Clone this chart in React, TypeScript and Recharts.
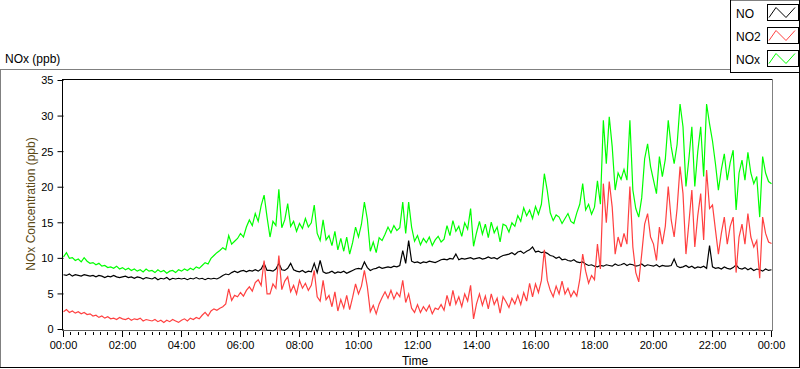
import { LineChart, Line, XAxis, YAxis, Label } from "recharts"

// sampled every 6 minutes (0.1 h), 00:00 .. 24:00
const sampleStepHours = 0.1

const noValues = [
  7.7, 7.6, 7.8, 7.5, 7.7, 7.6, 7.5, 7.7, 7.6, 7.5,
  7.6, 7.4, 7.6, 7.5, 7.3, 7.5, 7.4, 7.6, 7.4, 7.3,
  7.4, 7.5, 7.3, 7.4, 7.2, 7.4, 7.3, 7.1, 7.3, 7.2,
  7.1, 7.3, 7.0, 7.2, 7.1, 7.3, 7.0, 7.2, 7.1, 7.2,
  7.1, 7.2, 7.0, 7.2, 7.1, 7.3, 7.1, 7.2, 7.0, 7.2,
  7.1, 7.2, 7.1, 7.3, 7.6, 7.8, 7.7, 8.0, 8.2, 8.0,
  8.2, 8.3, 8.1, 8.3, 8.2, 8.4, 8.2, 8.5, 9.3, 8.3,
  8.3, 8.2, 8.5, 9.3, 8.4, 8.3, 8.6, 9.3, 8.4, 8.2,
  8.1, 8.3, 8.0, 8.2, 8.1, 9.3, 8.0, 9.7, 8.1, 7.9,
  8.0, 8.2, 7.9, 8.1, 8.0, 8.2, 7.9, 8.1, 8.3, 8.5,
  8.6, 8.5, 9.5, 8.7, 8.3, 8.5, 8.6, 8.8, 8.6, 8.7,
  8.8, 8.7, 8.9, 8.8, 9.0, 11.1, 9.3, 12.5, 9.6, 9.4,
  9.5, 9.3, 9.5, 9.4, 9.6, 9.5, 9.4, 9.6, 9.8, 9.9,
  9.8, 10.0, 9.9, 10.6, 9.8, 10.0, 9.9, 10.0, 10.1, 9.9,
  10.0, 10.1, 9.9, 10.0, 10.2, 10.0, 10.1, 9.9, 10.2, 10.4,
  10.5, 10.6, 10.8, 10.5, 10.9, 11.0, 10.7, 11.0, 11.2, 11.6,
  10.9, 11.0, 10.8, 10.9, 10.7, 10.4, 10.3, 10.0, 10.2, 9.8,
  9.9, 9.7, 9.6, 9.8, 9.5, 9.4, 9.5, 9.2, 9.0, 9.1,
  8.9, 8.8, 9.0, 8.9, 9.1, 9.0, 8.9, 9.2, 9.0, 9.1,
  9.3, 9.0, 9.2, 9.1, 8.9, 9.0, 9.2, 8.9, 9.1, 9.0,
  8.9, 9.1, 8.8, 9.0, 8.9, 8.9, 9.0, 9.9, 8.9, 8.7,
  8.8, 9.0, 8.7, 8.9, 8.6, 8.8, 8.7, 8.9, 8.6, 11.8,
  8.8, 8.6, 8.7, 8.5, 8.8, 8.6, 8.5, 8.7, 9.1, 8.6,
  8.5, 8.7, 8.4, 8.6, 8.3, 8.5, 8.4, 8.2, 8.5, 8.3,
  8.4,
]

const no2Values = [
  2.5, 2.8, 2.4, 2.6, 2.3, 2.5, 2.2, 2.4, 2.1, 2.2,
  1.9, 2.0, 1.7, 1.9, 1.6, 1.8, 1.5, 1.6, 1.4, 1.7,
  1.5, 1.4, 1.6, 1.3, 1.5, 1.4, 1.6, 1.2, 1.4, 1.3,
  1.2, 1.4, 1.1, 1.3, 1.0, 1.3, 1.1, 1.4, 1.2, 1.0,
  1.3, 1.5, 1.2, 1.6, 1.4, 1.7, 1.5, 2.0, 2.4, 1.9,
  2.6, 2.9, 2.7, 3.0, 3.2, 3.6, 5.7, 4.1, 4.8, 4.6,
  5.2, 4.7, 5.5, 6.0, 5.4, 6.6, 7.0, 6.2, 9.7, 5.0,
  5.0, 6.4, 5.8, 10.4, 5.6, 6.8, 7.4, 5.3, 6.2, 5.0,
  6.9, 5.8, 6.5, 5.5, 6.2, 8.3, 4.6, 4.0, 6.9, 4.2,
  4.8, 3.2, 5.3, 2.6, 4.2, 3.0, 4.8, 2.8, 4.5, 6.4,
  5.0, 6.1, 8.3, 6.0, 2.5, 3.4, 2.2, 3.6, 4.5, 5.3,
  4.4, 5.5, 4.3, 5.2, 4.6, 6.9, 3.8, 5.0, 3.0, 2.4,
  3.5, 2.4, 3.2, 2.6, 3.4, 2.2, 3.0, 2.8, 3.5, 2.7,
  4.8, 3.3, 5.5, 3.6, 4.6, 3.2, 5.0, 4.0, 6.2, 1.5,
  3.6, 5.0, 3.4, 4.7, 2.9, 5.0, 3.5, 4.4, 2.3, 4.6,
  3.9, 3.1, 4.4, 3.6, 4.8, 3.5, 5.2, 4.0, 6.5, 4.6,
  6.4, 5.2, 6.9, 11.2, 6.9, 5.5, 4.6, 6.1, 5.0, 6.8,
  5.0, 5.8, 4.6, 5.4, 4.7, 7.0, 10.6, 8.2, 6.5, 7.6,
  7.0, 12.0, 8.5, 20.5, 15.0, 20.8, 17.2, 10.6, 13.0, 11.6,
  13.5, 12.0, 20.1, 11.6, 8.0, 6.7, 10.6, 14.8, 16.3, 13.0,
  12.0, 9.7, 14.4, 12.0, 14.5, 20.1, 15.4, 13.0, 17.0, 22.9,
  19.1, 10.6, 15.0, 19.6, 11.6, 16.0, 19.1, 12.6, 22.4, 17.0,
  17.5, 14.0, 10.6, 13.5, 15.8, 12.0, 14.5, 15.8, 8.0, 13.0,
  14.8, 12.0, 16.3, 13.0, 11.6, 12.5, 7.2, 15.8, 13.5, 12.3,
  12.1,
]

const noxValues = [
  10.2, 10.8, 10.0, 10.1, 9.7, 9.9, 9.5, 10.1, 9.6, 9.3,
  9.4, 9.1, 9.3, 8.9, 9.0, 8.7, 8.8, 8.6, 8.9, 8.5,
  8.7, 8.4, 8.6, 8.3, 8.5, 8.2, 8.4, 8.1, 8.5, 8.2,
  8.3, 8.0, 8.4, 8.1, 8.3, 7.9, 8.2, 8.3, 8.0, 8.4,
  8.2, 8.5, 8.3, 8.6, 8.4, 8.8, 8.6, 9.0, 9.4, 9.2,
  10.0, 10.4, 10.8, 11.1, 11.5, 11.2, 13.2, 12.0, 12.4, 12.8,
  13.5, 13.0, 14.4, 15.4, 14.6, 16.3, 15.2, 17.4, 18.9, 15.8,
  13.0, 15.2, 14.6, 19.7, 14.3, 15.4, 17.7, 14.5, 15.2, 13.8,
  14.9, 14.2, 15.6, 14.4, 15.0, 17.5, 13.5, 12.5, 15.4, 12.6,
  13.2, 11.8, 13.8, 11.2, 12.8, 11.0, 13.0, 10.6, 12.2, 14.4,
  13.0, 14.8, 17.9, 15.5, 11.0, 12.3, 10.8, 12.9, 12.5, 13.4,
  14.4, 13.6, 14.6, 13.9, 14.3, 17.9, 13.5, 17.9, 14.4, 12.4,
  13.2, 11.9, 12.8, 12.2, 13.0, 11.8, 12.6, 13.1, 12.3, 12.7,
  14.6, 13.2, 15.3, 13.8, 14.5, 13.1, 15.0, 14.1, 17.0, 11.7,
  13.6, 15.2, 13.4, 14.8, 12.9, 15.1, 13.6, 14.4, 12.3, 14.8,
  14.6, 13.7, 15.0, 14.5, 16.0, 15.2, 17.1, 16.0, 16.8, 15.6,
  17.3, 16.2, 17.6, 21.9, 19.5, 16.4, 15.3, 16.1, 15.8, 14.9,
  15.6, 16.3, 15.2, 14.9, 16.4, 17.6, 20.5, 16.8, 17.6, 16.2,
  17.2, 20.9, 17.6, 29.4, 23.3, 29.9, 25.7, 19.6, 22.0, 21.1,
  22.5, 21.0, 29.4, 19.6, 17.0, 15.8, 18.5, 24.0, 26.1, 22.9,
  21.0, 19.1, 24.3, 21.5, 23.9, 29.4, 25.7, 23.3, 26.0, 31.7,
  28.5, 20.1, 24.0, 28.5, 20.1, 25.0, 28.5, 21.5, 31.7, 28.9,
  26.5, 23.3, 19.6, 22.5, 24.7, 21.0, 23.5, 25.2, 16.8, 22.0,
  23.8, 21.0, 24.9, 22.0, 20.5, 21.5, 15.8, 24.3, 22.0, 20.8,
  20.5,
]

const seriesNames = ["NO", "NO2", "NOx"]
const seriesKeys = ["no", "no2", "nox"]
const seriesColors = ["#000000", "#ff4040", "#00ff00"]

const timeLabels = [
  "00:00", "02:00", "04:00", "06:00", "08:00", "10:00", "12:00",
  "14:00", "16:00", "18:00", "20:00", "22:00", "00:00",
]
const yTicks = [0, 5, 10, 15, 20, 25, 30, 35]
const minorTickHours = 0.25

const data = noValues.map((v, i) => ({
  t: i * sampleStepHours,
  no: v,
  no2: no2Values[i],
  nox: noxValues[i],
}))

const axisTicks = Array.from(
  { length: 24 / minorTickHours + 1 },
  (_, i) => i * minorTickHours
)

const FONT = "Liberation Sans, Arial, sans-serif"

function TimeTick({ x, y, payload }: any) {
  const v = payload.value as number
  const major = Math.abs(v / 2 - Math.round(v / 2)) < 1e-6
  return (
    <g>
      <line
        x1={x}
        x2={x}
        y1={y + (major ? 1.5 : 2.5)}
        y2={y + (major ? 7.5 : 5.5)}
        stroke="#000"
        shapeRendering="crispEdges"
      />
      {major && (
        <text x={x} y={y + 19.5} textAnchor="middle" fill="#000" fontSize={11} fontFamily={FONT}>
          {timeLabels[Math.round(v / 2)]}
        </text>
      )}
    </g>
  )
}

function Frame() {
  return (
    <svg width={800} height={369} style={{ position: "absolute", left: 0, top: 0 }}>
      {/* graph frame */}
      <line x1={0} x2={731} y1={69.5} y2={69.5} stroke="#808080" />
      <line x1={0.5} x2={0.5} y1={69} y2={368} stroke="#808080" />
      <line x1={0} x2={800} y1={367.5} y2={367.5} stroke="#000" />
      <line x1={799.5} x2={799.5} y1={72} y2={368} stroke="#000" />
      <text x={5} y={63} fontSize={12} fontFamily={FONT} fill="#000">
        NOx (ppb)
      </text>

      {/* plot area border */}
      <line x1={62} x2={773} y1={79.5} y2={79.5} stroke="#000" />
      <line x1={62.5} x2={62.5} y1={79} y2={331} stroke="#000" />
      <line x1={772.5} x2={772.5} y1={79} y2={331} stroke="#808080" />
      <line x1={62} x2={773} y1={330.5} y2={330.5} stroke="#606060" />

      {/* legend */}
      <rect x={730} y={0} width={70} height={73} fill="#fff" />
      <line x1={730} x2={800} y1={0.5} y2={0.5} stroke="#808080" />
      <line x1={730.5} x2={730.5} y1={0} y2={73} stroke="#000" />
      <line x1={730} x2={800} y1={72.5} y2={72.5} stroke="#000" />
      <line x1={799.5} x2={799.5} y1={0} y2={73} stroke="#000" />
      {seriesNames.map((name, i) => {
        const top = 4 + i * 23
        return (
          <g key={name}>
            <text x={736} y={top + 13.5} fontSize={12} fontFamily={FONT} fill="#000">
              {name}
            </text>
            <rect x={767.5} y={top + 0.5} width={31} height={16} fill="#fff" stroke="#000" />
            <polyline
              points={`769,${top + 13.5} 776,${top + 3.5} 786,${top + 13.5} 795,${top + 3.5}`}
              fill="none"
              stroke={seriesColors[i]}
              strokeWidth={1}
            />
          </g>
        )
      })}
    </svg>
  )
}

export default function App() {
  return (
    <div
      style={{
        position: "absolute",
        left: 0,
        top: 0,
        width: 800,
        height: 369,
        background: "#fff",
        overflow: "hidden",
      }}
    >
      <Frame />
      <div style={{ position: "absolute", left: 0, top: 0 }}>
        <LineChart
          width={800}
          height={369}
          data={data}
          margin={{ top: 80.5, right: 28.5, left: 23.5, bottom: 9.5 }}
        >
          <XAxis
            dataKey="t"
            type="number"
            domain={[0, 24]}
            ticks={axisTicks}
            interval={0}
            tickSize={0}
            tickMargin={0}
            tickLine={false}
            axisLine={false}
            height={30}
            tick={<TimeTick />}
          >
            <Label
              content={() => (
                <text x={415} y={365} textAnchor="middle" fontSize={12} fontFamily={FONT} fill="#000">
                  Time
                </text>
              )}
            />
          </XAxis>
          <YAxis
            type="number"
            domain={[0, 35]}
            ticks={yTicks}
            interval={0}
            width={40}
            tickSize={6}
            tickMargin={4}
            axisLine={false}
            tickLine={{ stroke: "#000" }}
            tick={{ fill: "#000", fontSize: 11, fontFamily: FONT }}
          >
            <Label
              content={() => (
                <text
                  transform="translate(34.5,204) rotate(-90)"
                  textAnchor="middle"
                  fontSize={12}
                  fontFamily={FONT}
                  fill="#5c4a16"
                >
                  NOx Concentration (ppb)
                </text>
              )}
            />
          </YAxis>
          {seriesKeys.map((k, i) => (
            <Line
              key={k}
              type="linear"
              dataKey={k}
              name={seriesNames[i]}
              stroke={seriesColors[i]}
              strokeWidth={1.2}
              dot={false}
              activeDot={false}
              isAnimationActive={false}
            />
          ))}
        </LineChart>
      </div>
    </div>
  )
}
